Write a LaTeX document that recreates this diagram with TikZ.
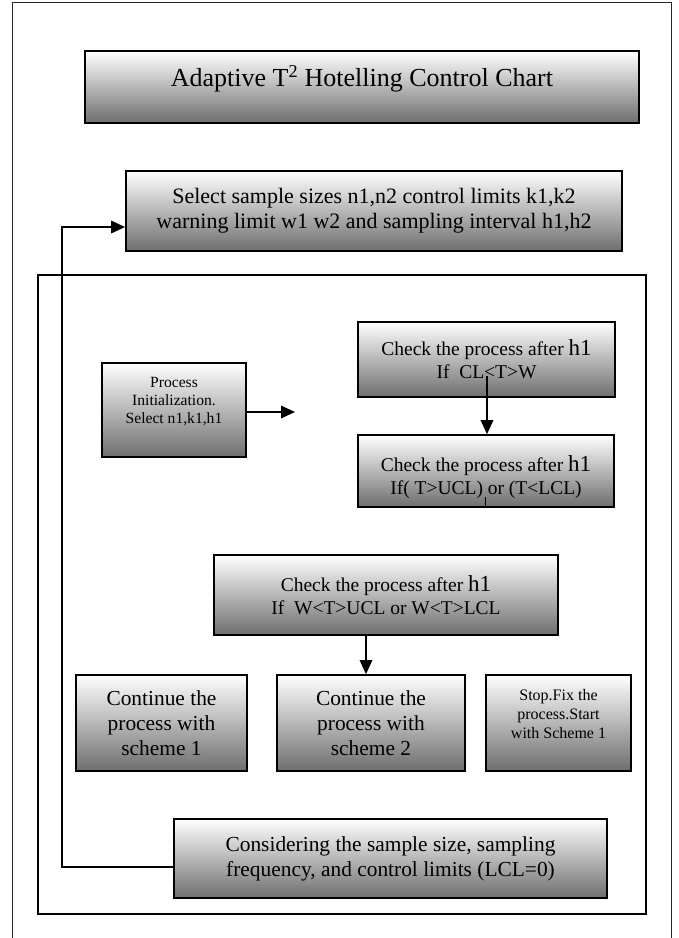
\documentclass[tikz,border=0pt]{standalone}
\usepackage{fontspec}
\setmainfont{Liberation Serif}
\usetikzlibrary{arrows.meta}
\definecolor{boxgray}{RGB}{110,110,110}
\newcommand{\myfs}[2]{\fontsize{#1}{#2}\selectfont}
\newcommand{\shifttext}[2]{\raisebox{#1}[\height][\depth]{\begin{tabular}{@{}c@{}}#2\end{tabular}}}
\begin{document}
\begin{tikzpicture}[x=1pt,y=-1pt,
  box/.style={draw=black, line width=1.7pt, top color=white, bottom color=boxgray, align=center, inner sep=0pt},
  framebox/.style={draw=black, line width=1.8pt},
  conn/.style={draw=black, line width=1.6pt},
  arr/.style={conn, -{Triangle[length=14pt,width=12.5pt]}},
  bigtxt/.style={font=\myfs{21.4}{25}},
  chktxt/.style={font=\myfs{19.5}{23}},
]
\useasboundingbox (0,0) rectangle (679,938);
% outer frame
\draw[black!85, line width=1pt] (12,945) -- (12,2) -- (671,2) -- (671,945);
% inner frame
\draw[framebox] (38,275) rectangle (646,914);

\node[box, minimum width=554, minimum height=72, font=\myfs{26}{30}] (title) at (362,87)
  {\shifttext{7pt}{Adaptive T\textsuperscript{2} Hotelling Control Chart}};
\node[box, font=\myfs{22}{25}, minimum width=496, minimum height=80] (sel) at (374,211)
  {Select sample sizes n1,n2 control limits k1,k2\\ warning limit w1 w2 and sampling interval h1,h2};
\node[box, minimum width=144, minimum height=94, font=\myfs{15.6}{18}] (proc) at (174,410)
  {\shifttext{8pt}{Process\\ Initialization.\\ Select n1,k1,h1}};
\node[box, chktxt, minimum width=257, minimum height=75] (chk1) at (486.5,359.5)
  {Check the process after {\myfs{23}{23}h1}\\ If\ \ CL<T>W};
\node[box, chktxt, minimum width=256, minimum height=72] (chk2) at (486,471)
  {\shifttext{-7pt}{Check the process after {\myfs{23}{23}h1}\\ If( T>UCL) or (T<LCL)}};
\node[box, chktxt, minimum width=344, minimum height=80] (chk3) at (386,595)
  {Check the process after {\myfs{23}{23}h1}\\ If\ \ W<T>UCL or W<T>LCL};
\node[box, bigtxt, minimum width=171, minimum height=96] (cont1) at (161.5,723)
  {Continue the\\ process with\\ scheme 1};
\node[box, bigtxt, minimum width=188, minimum height=96] (cont2) at (371,723)
  {Continue the\\ process with\\ scheme 2};
\node[box, minimum width=145, minimum height=96, font=\myfs{16}{19}] (stop) at (558.5,723)
  {\shifttext{7pt}{Stop.Fix the\\ process.Start\\ with Scheme 1}};
\node[box, bigtxt, minimum width=433, minimum height=79] (bot) at (390.5,858.5)
  {Considering the sample size, sampling\\ frequency, and control limits (LCL=0)};

% connectors
\coordinate (fbA) at (62,867);
\coordinate (fbB) at (62,227);
\draw[arr] (bot.west |- fbA) -- (fbA) -- (fbB) -- (sel.west |- fbB);
\coordinate (pe) at (295,412);
\draw[arr] (proc.east |- pe) -- (pe);
\coordinate (c1s) at (487,376);
\draw[arr] (c1s) -- (c1s |- chk2.north);
\coordinate (c2s) at (485.5,497);
\draw[conn, line width=1pt] (c2s) -- (c2s |- chk2.south);
\coordinate (c3x) at (366,0);
\draw[arr] (chk3.south -| c3x) -- (cont2.north -| c3x);
\end{tikzpicture}
\end{document}
